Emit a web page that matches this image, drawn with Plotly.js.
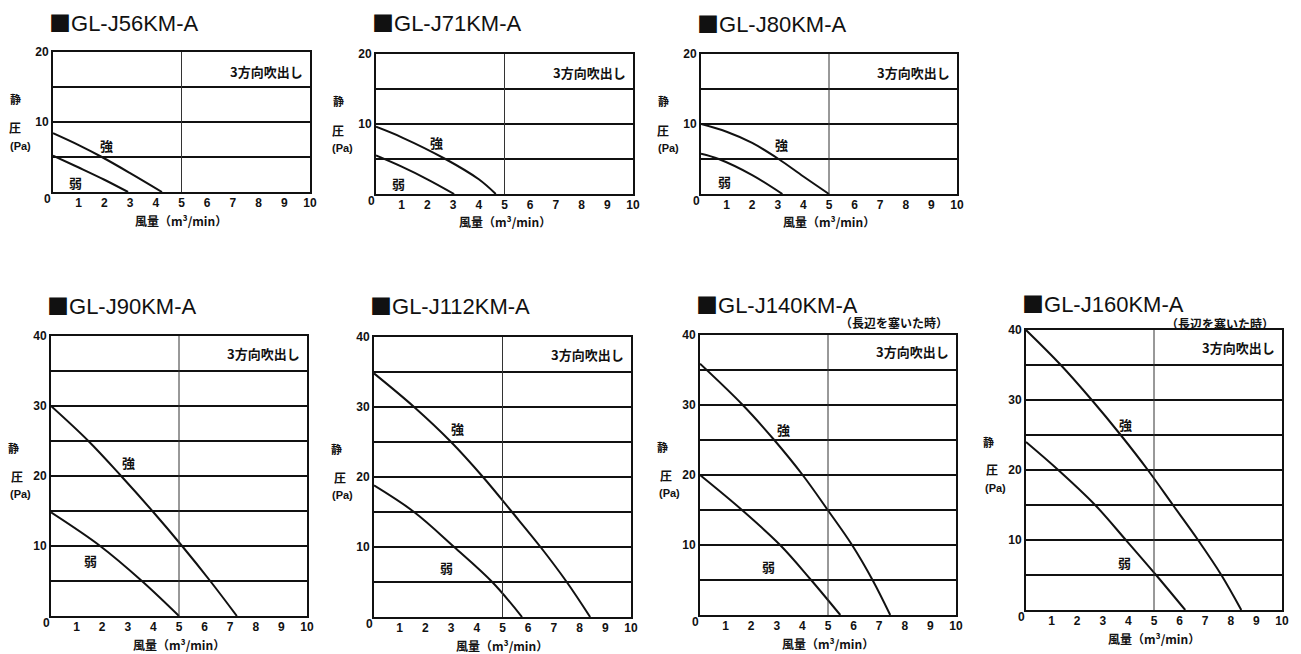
<!DOCTYPE html>
<html><head><meta charset="utf-8">
<script src="https://cdn.plot.ly/plotly-3.0.1.min.js"></script>
<style>html,body{margin:0;padding:0;background:#fff;}#chart{width:1301px;height:654px;}</style>
</head><body><div id="chart"></div>
<script>
// ---- data ----
const modelNames = ["GL-J56KM-A","GL-J71KM-A","GL-J80KM-A","GL-J90KM-A","GL-J112KM-A","GL-J140KM-A","GL-J160KM-A"];
const yMaxes = [20,20,20,40,40,40,40];
const xTickLabels = ["1","2","3","4","5","6","7","8","9","10"];
const xTickVals = [1,2,3,4,5,6,7,8,9,10];
const strongLabel = "強", weakLabel = "弱";
const noteText = "3方向吹出し";
const blockedNote = "（長辺を塞いた時）";
const xTitleText = "風量（m³/min）";

const j56_strong_x = [0, 1, 1.9, 3, 4.24];
const j56_strong_y = [8.4, 6.7, 5, 2.7, 0];
const j56_weak_x = [0, 1, 2, 2.92];
const j56_weak_y = [5.2, 3.5, 1.75, 0];

const j71_strong_x = [0, 1, 2.7, 4, 4.66];
const j71_strong_y = [9.6, 8.1, 5, 2.1, 0];
const j71_weak_x = [0, 1, 2, 3.04];
const j71_weak_y = [5.5, 3.9, 2.1, 0];

const j80_strong_x = [0, 1, 2, 3.03, 4, 5];
const j80_strong_y = [10, 8.9, 7.3, 5, 2.5, 0];
const j80_weak_x = [0, 0.69, 2, 3.18];
const j80_weak_y = [5.75, 5, 2.7, 0];

const j90_strong_x = [0, 1.46, 2.74, 3.96, 5.12, 6.22, 7.26];
const j90_strong_y = [30, 25, 20, 15, 10, 5, 0];
const j90_weak_x = [0, 1.92, 3.55, 5.0];
const j90_weak_y = [14.8, 10, 5, 0];

const j112_strong_x = [0, 1.56, 3.0, 4.24, 5.37, 6.48, 7.5, 8.41];
const j112_strong_y = [34.8, 30, 25, 20, 15, 10, 5, 0];
const j112_weak_x = [0, 1.56, 3.12, 4.6, 5.76];
const j112_weak_y = [18.8, 15, 10, 5, 0];

const j140_strong_x = [0, 1.67, 2.9, 4.01, 4.99, 5.94, 6.74, 7.43];
const j140_strong_y = [35.9, 30, 25, 20, 15, 10, 5, 0];
const j140_weak_x = [0, 1.64, 3.13, 4.34, 5.48];
const j140_weak_y = [20, 15, 10, 5, 0];

const j160_strong_x = [0, 1.36, 2.57, 3.7, 4.76, 5.74, 6.72, 7.63, 8.41];
const j160_strong_y = [40, 35, 30, 25, 20, 15, 10, 5, 0];
const j160_weak_x = [0, 1.26, 2.7, 3.9, 5.08, 6.22];
const j160_weak_y = [24, 20, 15, 10, 5, 0];

const strongX = [j56_strong_x, j71_strong_x, j80_strong_x, j90_strong_x, j112_strong_x, j140_strong_x, j160_strong_x];
const strongY = [j56_strong_y, j71_strong_y, j80_strong_y, j90_strong_y, j112_strong_y, j140_strong_y, j160_strong_y];
const weakX = [j56_weak_x, j71_weak_x, j80_weak_x, j90_weak_x, j112_weak_x, j140_weak_x, j160_weak_x];
const weakY = [j56_weak_y, j71_weak_y, j80_weak_y, j90_weak_y, j112_weak_y, j140_weak_y, j160_weak_y];
// label anchor positions (data units)
const strongLabelPos = [[2.1,6.7],[2.36,7.4],[3.13,7.1],[3.03,22],[3.24,27],[3.25,26.5],[3.89,26.5]];
const weakLabelPos = [[0.86,1.4],[0.87,1.5],[0.91,1.8],[1.54,8],[2.84,7.1],[2.69,7],[3.85,6.8]];
const hasBlockedNote = [false,false,false,false,false,true,true];

// ---- layout geometry (pixels) ----
const W = 1301, H = 654;
const boxes = [ // left, right, top, bottom
  [53,310,52,192],[376,633,54,194],[701,957,54,194],
  [51,307,336,616],[374,631,337,617],[700,956,335,615],[1026,1282,330,610]
];
const titleY = [21,21,22,304,304,303,302];
const blockedY = [0,0,0,0,0,322,323];
const px = p => p / W, py = p => 1 - p / H;

const FONT = "Liberation Sans, Arial, Noto Sans CJK JP, sans-serif";
const JFONT = "Noto Sans CJK JP, Liberation Sans, sans-serif";
const INK = "#111";

const data = [], annotations = [], shapes = [];
const layout = {
  width: W, height: H, margin: {l:0,r:0,t:0,b:0},
  paper_bgcolor: "#fff", plot_bgcolor: "#fff", showlegend: false,
  font: {family: FONT, color: INK}
};
function note(text, x, y, size, family, extra) {
  annotations.push(Object.assign({text: text, xref: "paper", yref: "paper", x: px(x), y: py(y),
    xanchor: "center", yanchor: "middle", showarrow: false,
    font: {size: size, family: family, color: INK}}, extra || {}));
}

for (let i = 0; i < 7; i++) {
  const n = i + 1;
  const [L, R, T, B] = boxes[i];
  const ym = yMaxes[i];
  const xa = "x" + n, ya = "y" + n;
  const yTickVals = [], yTickText = [];
  for (let v = 0; v <= ym; v += 5) { yTickVals.push(v); yTickText.push(v > 0 && v % 10 === 0 ? String(v) : ""); }
  layout["xaxis" + n] = {
    domain: [px(L), px(R)], anchor: ya, range: [0, 10], tickvals: xTickVals, ticktext: xTickLabels,
    ticks: "", showgrid: false, zeroline: false, showline: true, mirror: true, ticklabelstandoff: -1,
    linecolor: INK, linewidth: 2, tickfont: {size: 12, family: FONT, color: INK, weight: "bold"}, fixedrange: true
  };
  layout["yaxis" + n] = {
    domain: [py(B), py(T)], anchor: xa, range: [0, ym], tickvals: yTickVals, ticktext: yTickText,
    ticks: "", showgrid: true, gridcolor: INK, gridwidth: 2, zeroline: false, showline: true, mirror: true,
    linecolor: INK, linewidth: 2, tickfont: {size: 12, family: FONT, color: INK, weight: "bold"}, fixedrange: true
  };
  shapes.push({type: "line", xref: xa, yref: ya + " domain", x0: 5, x1: 5, y0: 0, y1: 1,
    line: {color: "#333", width: 1}});
  data.push({x: strongX[i], y: strongY[i], xaxis: xa, yaxis: ya, mode: "lines",
    line: {color: INK, width: 2, shape: "spline", smoothing: 1}, hoverinfo: "skip"});
  data.push({x: weakX[i], y: weakY[i], xaxis: xa, yaxis: ya, mode: "lines",
    line: {color: INK, width: 2, shape: "spline", smoothing: 1}, hoverinfo: "skip"});

  // title
  note("<span style='font-family:Noto Sans CJK JP'>■</span>" + modelNames[i], L - 6, titleY[i], 22, FONT, {xanchor: "left"});
  // note
  note("<b>" + noteText + "</b>", R - 5, T + (i < 3 ? 19 : 17), 13, JFONT, {xanchor: "right"});
  if (hasBlockedNote[i]) {
    note("<b>" + blockedNote + "</b>", R - 6, blockedY[i], 12, JFONT, {xanchor: "right"});
  }
  // curve labels
  annotations.push({text: "<b>" + strongLabel + "</b>", xref: xa, yref: ya, x: strongLabelPos[i][0], y: strongLabelPos[i][1],
    xanchor: "center", yanchor: "middle", showarrow: false, font: {size: 13, family: JFONT, color: INK}});
  annotations.push({text: "<b>" + weakLabel + "</b>", xref: xa, yref: ya, x: weakLabelPos[i][0], y: weakLabelPos[i][1],
    xanchor: "center", yanchor: "middle", showarrow: false, font: {size: 13, family: JFONT, color: INK}});
  // y-axis title pieces
  const off = i < 3 ? [-38, -38, -33] : [-38, -34, -31];
  const ys = i < 3 ? [T + 47, T + 76, T + 94] : [T + 112, T + 140, T + 158];
  note("<b>静</b>", L + off[0], ys[0], 11, JFONT);
  note("<b>圧</b>", L + off[1], ys[1], 12, JFONT);
  note("<b>(Pa)</b>", L + off[2], ys[2], 11, FONT);
  // x-axis title
  note("<b>" + xTitleText + "</b>", (L + R) / 2, B + 28, 12, JFONT);
  // corner zero
  note("<b>0</b>", L - 5, B + 7, 12, FONT);
}
layout.annotations = annotations;
layout.shapes = shapes;
Plotly.newPlot("chart", data, layout, {staticPlot: true});
</script></body></html>
